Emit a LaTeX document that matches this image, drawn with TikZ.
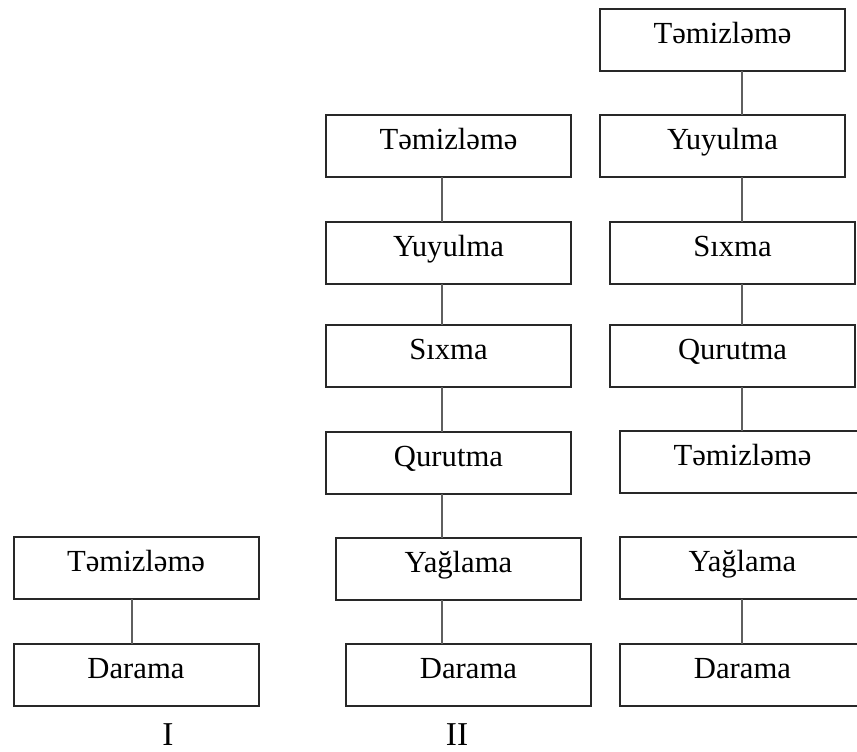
\documentclass[tikz,border=0pt]{standalone}
\usepackage{fontspec}
\setmainfont{Liberation Serif}
\begin{document}
\begin{tikzpicture}[x=0.75pt,y=-0.75pt,
  stagebox/.style={draw={rgb,255:red,40;green,40;blue,40},line width=1.5pt,rectangle,inner sep=0pt,outer sep=0pt,
    minimum width=183.75pt,minimum height=46.5pt,text height=15pt,text depth=9.4pt,
    font=\fontsize{23}{27}\selectfont},
  link/.style={draw={rgb,255:red,95;green,95;blue,95},line width=1.6pt},
  schemelabel/.style={font=\fontsize{25}{28}\selectfont,inner sep=0pt,anchor=base}]
\useasboundingbox (0,0) rectangle (857,751);
\fill[white] (0,0) rectangle (857,751);
\clip (0,0) rectangle (857,751);
% Column I
\node[stagebox] (a1) at (136,568) {Təmizləmə};
\node[stagebox] (a2) at (136,674.5) {Darama};
\coordinate (ax) at (132,0);
\draw[link] (a1.south -| ax) -- (a2.north -| ax);
\node[schemelabel] (lI) at (168,745) {I};
% Column II
\node[stagebox] (b1) at (448.5,146) {Təmizləmə};
\node[stagebox] (b2) at (448.5,252.5) {Yuyulma};
\node[stagebox] (b3) at (448.5,356) {Sıxma};
\node[stagebox] (b4) at (448.5,462.5) {Qurutma};
\node[stagebox] (b5) at (458.5,568.5) {Yağlama};
\node[stagebox] (b6) at (468.5,675) {Darama};
\coordinate (bx) at (442,0);
\draw[link] (b1.south -| bx) -- (b2.north -| bx);
\draw[link] (b2.south -| bx) -- (b3.north -| bx);
\draw[link] (b3.south -| bx) -- (b4.north -| bx);
\draw[link] (b4.south -| bx) -- (b5.north -| bx);
\draw[link] (b5.south -| bx) -- (b6.north -| bx);
\node[schemelabel] (lII) at (457,745) {II};
% Column III
\node[stagebox] (c1) at (722.5,39.5) {Təmizləmə};
\node[stagebox] (c2) at (722.5,146) {Yuyulma};
\node[stagebox] (c3) at (732.5,252.5) {Sıxma};
\node[stagebox] (c4) at (732.5,356) {Qurutma};
\node[stagebox] (c5) at (742.5,462) {Təmizləmə};
\node[stagebox] (c6) at (742.5,568) {Yağlama};
\node[stagebox] (c7) at (742.5,674.5) {Darama};
\coordinate (cx) at (742,0);
\draw[link] (c1.south -| cx) -- (c2.north -| cx);
\draw[link] (c2.south -| cx) -- (c3.north -| cx);
\draw[link] (c3.south -| cx) -- (c4.north -| cx);
\draw[link] (c4.south -| cx) -- (c5.north -| cx);
\draw[link] (c6.south -| cx) -- (c7.north -| cx);
\end{tikzpicture}
\end{document}
